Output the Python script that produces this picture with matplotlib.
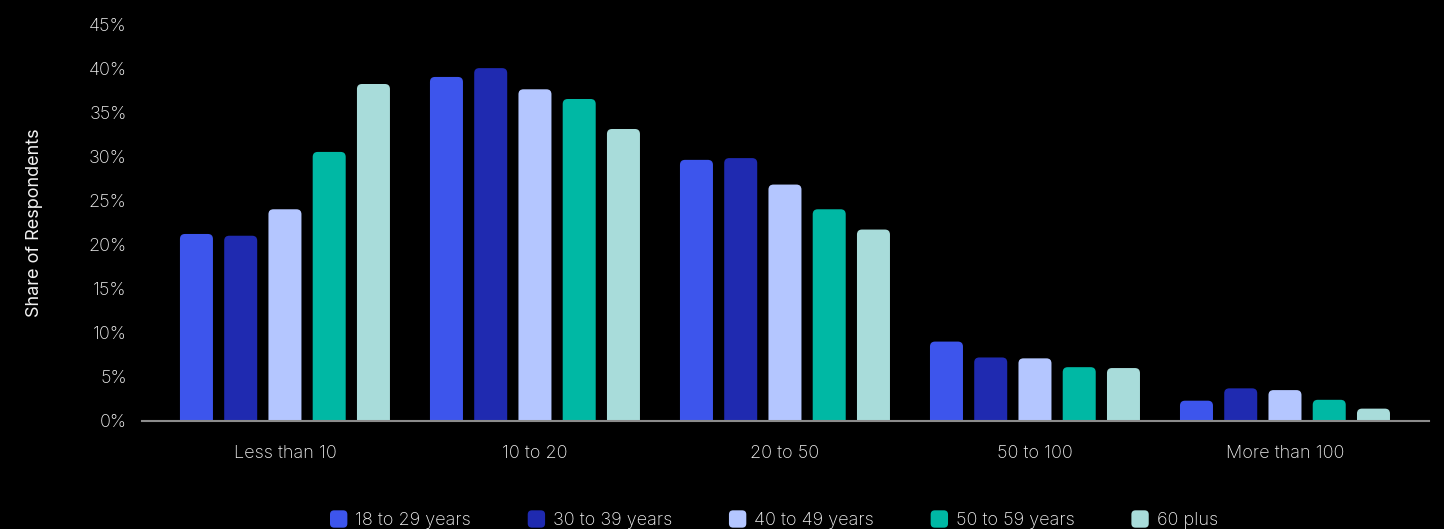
import numpy as np
import matplotlib.pyplot as plt
from matplotlib.patches import FancyBboxPatch
from matplotlib.legend_handler import HandlerPatch

# Datos del gráfico
categorias = ["Less than 10", "10 to 20", "20 to 50", "50 to 100", "More than 100"]
grupos = ["18 to 29 years", "30 to 39 years", "40 to 49 years", "50 to 59 years", "60 plus"]
edad_18_29 = [21.2, 39.0, 29.6, 9.0, 2.3]
edad_30_39 = [21.0, 40.0, 29.8, 7.2, 3.7]
edad_40_49 = [24.0, 37.6, 26.8, 7.1, 3.5]
edad_50_59 = [30.5, 36.5, 24.0, 6.1, 2.4]
edad_60_mas = [38.2, 33.1, 21.7, 6.0, 1.4]
series = [edad_18_29, edad_30_39, edad_40_49, edad_50_59, edad_60_mas]
colores = ["#3d55ec", "#1f2ab0", "#b4c6ff", "#00b8a4", "#a8dcda"]

plt.rcParams['font.family'] = ['Inter', 'DejaVu Sans']
plt.rcParams['font.weight'] = 'light'
texto = "#f2f2f2"
tam = 13

fig = plt.figure(figsize=(14.44, 5.29), dpi=100, facecolor="black")
ax = fig.add_axes([0.0983, 0.2042, 0.8913, 0.7504], facecolor="black")

x = np.arange(len(categorias))
ancho = 0.132
paso = 0.177
ax.set_xlim(-0.572, 4.576)
ax.set_ylim(0, 45)

# proporción y/x en datos por pixel, para redondear las esquinas
aspecto = (45 / 397) / (5.148 / 1287)
radio = 0.02

for i, valores in enumerate(series):
    for xi, v in zip(x, valores):
        xc = xi + (i - 2) * paso
        p = FancyBboxPatch((xc - ancho / 2, -2), ancho, v + 2,
                           boxstyle=f"round,pad=0,rounding_size={radio}",
                           mutation_aspect=aspecto, facecolor=colores[i],
                           edgecolor="none", clip_on=True)
        ax.add_patch(p)

ax.axhline(0, color="#8c8c8c", linewidth=1.5, zorder=5, clip_on=False)

ax.set_xticks(x)
ax.set_xticklabels(categorias)
ax.set_yticks(np.arange(0, 46, 5))
ax.set_yticklabels([f"{v}%" for v in range(0, 46, 5)])
ax.tick_params(axis="both", length=0, colors=texto, labelsize=tam)
ax.tick_params(axis="x", pad=17)
ax.tick_params(axis="y", pad=11)
ax.set_ylabel("Share of Respondents", color=texto, fontsize=tam, labelpad=0)
ax.yaxis.set_label_coords(-0.0765, 0.5)
for s in ax.spines.values():
    s.set_visible(False)


class RoundHandler(HandlerPatch):
    def create_artists(self, legend, orig_handle, xdescent, ydescent, width, height, fontsize, trans):
        lado = 12.5
        p = FancyBboxPatch((-xdescent, -ydescent + height / 2 - lado / 2 - 0.5), lado, lado,
                           boxstyle="round,pad=0,rounding_size=3",
                           facecolor=orig_handle.get_facecolor(), edgecolor="none",
                           transform=trans)
        return [p]


handles = [plt.Rectangle((0, 0), 1, 1, color=c) for c in colores]
leg = fig.legend(handles, grupos, loc="lower center", bbox_to_anchor=(0.536, -0.03), ncol=5,
                 frameon=False, fontsize=tam, handler_map={plt.Rectangle: RoundHandler()},
                 handlelength=0.96, handletextpad=0.45, columnspacing=3.13)
for t in leg.get_texts():
    t.set_color(texto)

plt.savefig("out.png", dpi=100, facecolor="black")
